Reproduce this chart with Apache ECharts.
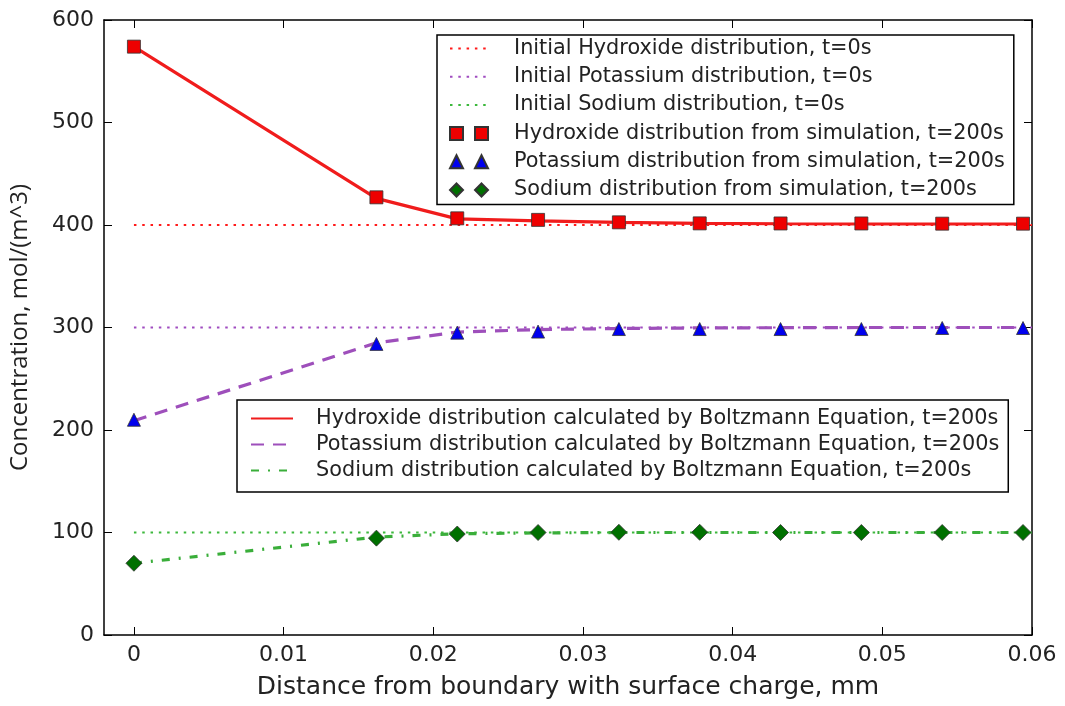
<!DOCTYPE html>
<html>
<head>
<meta charset="utf-8">
<script src="https://cdn.jsdelivr.net/npm/echarts@6/dist/echarts.min.js"></script>
<style>
  html, body { margin: 0; padding: 0; background: #fff; }
  #chart { width: 1065px; height: 706px; }
</style>
</head>
<body>
<div id="chart"></div>
<script>
// ---- data ----
const xSim = [0, 0.0162, 0.0216, 0.027, 0.0324, 0.0378, 0.0432, 0.0486, 0.054, 0.0594];
const hydroxideSim = [574, 427, 406.5, 405, 402.6, 401.6, 401.5, 401.5, 401.3, 401.3];
const potassiumSim = [210, 284, 295, 296, 298.5, 298.5, 298.5, 298.5, 299.5, 299.5];
const sodiumSim = [70, 94.5, 98.5, 100, 100.2, 100.2, 100, 100, 100, 100];
const hydroxideBoltz = [574, 426, 406, 404, 402.5, 401.5, 401.2, 401, 401, 401];
const potassiumBoltz = [209, 285, 295.5, 298, 299, 299.6, 299.8, 300, 300, 300];
const sodiumBoltz = [70, 95.5, 98.8, 99.6, 100, 100, 100, 100, 100, 100];
const xInit = [0, 0.06];
const hydroxideInit = [400, 400];
const potassiumInit = [300, 300];
const sodiumInit = [100, 100];
const xTicks = [0, 0.01, 0.02, 0.03, 0.04, 0.05, 0.06];
const xTickLabels = ['0', '0.01', '0.02', '0.03', '0.04', '0.05', '0.06'];

const names = {
  hInit: 'Initial Hydroxide distribution, t=0s',
  pInit: 'Initial Potassium distribution, t=0s',
  sInit: 'Initial Sodium distribution, t=0s',
  hSim: 'Hydroxide distribution from simulation, t=200s',
  pSim: 'Potassium distribution from simulation, t=200s',
  sSim: 'Sodium distribution from simulation, t=200s',
  hB: 'Hydroxide distribution calculated by Boltzmann Equation, t=200s',
  pB: 'Potassium distribution calculated by Boltzmann Equation, t=200s',
  sB: 'Sodium distribution calculated by Boltzmann Equation, t=200s'
};

function pairs(xs, ys) { return xs.map((x, i) => [x, ys[i]]); }

const FONT = 'DejaVu Sans';
const chart = echarts.init(document.getElementById('chart'), null, { renderer: 'canvas' });

const dotted = [2.5, 5.8];
function initLine(name, ys, color) {
  return {
    name, type: 'line', data: pairs(xInit, ys), symbol: 'none', z: 1,
    lineStyle: { color, width: 2, type: dotted }, itemStyle: { color }
  };
}
function boltzLine(name, ys, color, type) {
  return {
    name, type: 'line', data: pairs(xSim, ys), symbol: 'none', z: 2,
    lineStyle: { color, width: 3.2, type }, itemStyle: { color }
  };
}
function simScatter(name, ys, color, symbol, size) {
  return {
    name, type: 'scatter', data: pairs(xSim, ys), symbol, symbolSize: size, z: 5,
    itemStyle: { color, borderColor: '#333', borderWidth: 0.8, opacity: 1 }
  };
}
const hideSym = { opacity: 0 };

const option = {
  animation: false,
  backgroundColor: '#fff',
  grid: { left: 102, right: 33, top: 20, bottom: 71, containLabel: false },
  xAxis: [{
    type: 'value', min: -0.002, max: 0.06, position: 'bottom',
    name: 'Distance from boundary with surface charge, mm',
    nameLocation: 'middle', nameGap: 40,
    nameTextStyle: { fontFamily: FONT, fontSize: 25, color: '#222' },
    axisLine: { onZero: false, lineStyle: { color: '#000', width: 1.5 } },
    axisTick: { inside: true, length: 8, customValues: xTicks, lineStyle: { color: '#000', width: 1 } },
    axisLabel: { customValues: xTicks, formatter: v => xTickLabels[xTicks.indexOf(v)] ?? String(v),
      fontFamily: FONT, fontSize: 22, color: '#222', margin: 9 },
    splitLine: { show: false }
  }, {
    type: 'value', min: -0.002, max: 0.06, position: 'top',
    axisLine: { show: true, onZero: false, lineStyle: { color: '#000', width: 1.5 } },
    axisTick: { inside: true, length: 8, customValues: xTicks, lineStyle: { color: '#000', width: 1 } },
    axisLabel: { show: false }, splitLine: { show: false }
  }],
  yAxis: [{
    type: 'value', min: 0, max: 600, interval: 100, position: 'left',
    name: 'Concentration, mol/(m^3)', nameLocation: 'middle', nameGap: 72,
    nameTextStyle: { fontFamily: 'Open Sans', fontSize: 24, color: '#222' },
    axisLine: { show: true, onZero: false, lineStyle: { color: '#000', width: 1.5 } },
    axisTick: { show: true, inside: true, length: 8, lineStyle: { color: '#000', width: 1 } },
    axisLabel: { fontFamily: FONT, fontSize: 22, color: '#222', margin: 10 },
    splitLine: { show: false }
  }, {
    type: 'value', min: 0, max: 600, interval: 100, position: 'right',
    axisLine: { show: true, onZero: false, lineStyle: { color: '#000', width: 1.5 } },
    axisTick: { show: true, inside: true, length: 8, lineStyle: { color: '#000', width: 1 } },
    axisLabel: { show: false }, splitLine: { show: false }
  }],
  legend: [{
    orient: 'vertical', left: 437, top: 35,
    padding: [3, 9, 4, 12], itemGap: 7.3, itemWidth: 38, itemHeight: 13,
    backgroundColor: '#fff', borderColor: '#000', borderWidth: 1.5, borderRadius: 0,
    textStyle: { fontFamily: FONT, fontSize: 20.8, color: '#222', padding: [0, 0, 0, 21] },
    data: [
      { name: names.hInit, itemStyle: hideSym }, { name: names.pInit, itemStyle: hideSym }, { name: names.sInit, itemStyle: hideSym },
      { name: names.hSim, icon: 'path://M0,0h13v13h-13z M25,0h13v13h-13z' },
      { name: names.pSim, icon: 'path://M6.5,0L13,13H0Z M31.5,0L38,13H25Z' },
      { name: names.sSim, icon: 'path://M6.5,0L13,6.5L6.5,13L0,6.5Z M31.5,0L38,6.5L31.5,13L25,6.5Z' }
    ]
  }, {
    orient: 'vertical', left: 237, top: 400,
    padding: [8, 9, 11, 13], itemGap: 5, itemWidth: 42, itemHeight: 14,
    backgroundColor: '#fff', borderColor: '#000', borderWidth: 1.5, borderRadius: 0,
    textStyle: { fontFamily: FONT, fontSize: 20.8, color: '#222', padding: [0, 0, 0, 18] },
    data: [{ name: names.hB, itemStyle: hideSym }, { name: names.pB, itemStyle: hideSym }, { name: names.sB, itemStyle: hideSym }]
  }],
  series: [
    initLine(names.hInit, hydroxideInit, '#ff1a1a'),
    initLine(names.pInit, potassiumInit, '#a04cc0'),
    initLine(names.sInit, sodiumInit, '#3cb83c'),
    boltzLine(names.hB, hydroxideBoltz, '#f01c1c', 'solid'),
    boltzLine(names.pB, potassiumBoltz, '#9e4fbb', [13, 9]),
    boltzLine(names.sB, sodiumBoltz, '#3aae3a', [8, 9, 2, 9]),
    simScatter(names.hSim, hydroxideSim, '#ee0000', 'rect', 13),
    simScatter(names.pSim, potassiumSim, '#0000ee', 'triangle', 13),
    simScatter(names.sSim, sodiumSim, '#007000', 'diamond', 16)
  ]
};
chart.setOption(option);
</script>
</body>
</html>
